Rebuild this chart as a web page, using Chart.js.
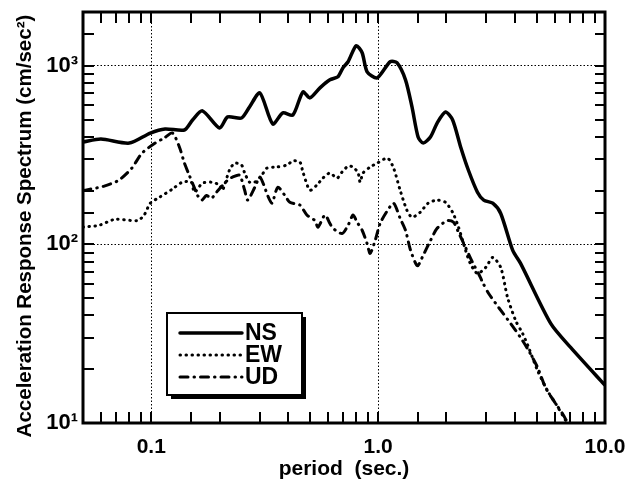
<!DOCTYPE html>
<html>
<head>
<meta charset="utf-8">
<script src="https://cdn.jsdelivr.net/npm/chart.js@4.4.0/dist/chart.umd.min.js"></script>
<style>
  html, body { margin: 0; padding: 0; background: #fff; }
  #wrap { width: 628px; height: 487px; }
</style>
</head>
<body>
<div id="wrap"><canvas id="spectrum"></canvas></div>
<script>
// periods (sec.) and spectral accelerations (cm/sec^2)
const nsPeriod = [0.05, 0.06, 0.08, 0.099, 0.115, 0.14, 0.152, 0.168, 0.2, 0.217, 0.25, 0.271, 0.301, 0.343, 0.38, 0.421, 0.466, 0.5, 0.554, 0.613, 0.665, 0.7, 0.737, 0.8, 0.85, 0.894, 0.99, 1.13, 1.21, 1.32, 1.41, 1.5, 1.58, 1.7, 1.82, 1.98, 2.13, 2.31, 2.5, 2.74, 2.92, 3.2, 3.47, 3.92, 4.25, 5.77, 7.07, 9.6, 10];
const nsAccel  = [374, 389, 369, 420, 443, 437, 497, 559, 448, 517, 510, 588, 705, 472, 545, 530, 714, 661, 752, 834, 868, 975, 1053, 1295, 1183, 925, 856, 1053, 1040, 834, 588, 399, 369, 399, 478, 551, 497, 351, 260, 196, 177, 170, 149, 92.5, 78, 36, 26.4, 17.2, 16.3];

const ewPeriod = [0.05, 0.059, 0.069, 0.087, 0.093, 0.099, 0.109, 0.124, 0.137, 0.15, 0.155, 0.168, 0.184, 0.2, 0.206, 0.221, 0.233, 0.25, 0.258, 0.271, 0.286, 0.307, 0.323, 0.357, 0.396, 0.421, 0.452, 0.466, 0.5, 0.537, 0.571, 0.613, 0.659, 0.693, 0.737, 0.775, 0.816, 0.833, 0.858, 0.922, 0.99, 1.1, 1.17, 1.25, 1.34, 1.41, 1.53, 1.66, 1.82, 1.98, 2.13, 2.26, 2.43, 2.55, 2.74, 2.98, 3.2, 3.47, 3.72, 4.04, 4.34, 4.61, 5.05, 5.59, 6.07, 6.72, 7.07];
const ewAccel  = [125, 128, 138, 136, 146, 170, 184, 204, 223, 223, 196, 220, 223, 215, 201, 260, 285, 278, 251, 223, 223, 244, 267, 271, 278, 293, 289, 254, 201, 215, 235, 251, 235, 254, 274, 271, 251, 223, 251, 271, 285, 304, 267, 201, 155, 142, 151, 170, 177, 172, 151, 125, 92.5, 78, 68.7, 74.3, 84.5, 74.3, 50.4, 37.4, 31.6, 26.4, 19.6, 15.1, 12.8, 10.3, 9.2];

const udPeriod = [0.05, 0.062, 0.072, 0.082, 0.091, 0.104, 0.114, 0.124, 0.133, 0.14, 0.147, 0.152, 0.16, 0.167, 0.175, 0.184, 0.194, 0.217, 0.228, 0.245, 0.258, 0.266, 0.286, 0.301, 0.316, 0.323, 0.34, 0.361, 0.388, 0.408, 0.452, 0.485, 0.526, 0.543, 0.583, 0.613, 0.632, 0.693, 0.737, 0.775, 0.808, 0.85, 0.894, 0.922, 0.97, 1.02, 1.1, 1.17, 1.25, 1.32, 1.39, 1.49, 1.58, 1.7, 1.82, 2.02, 2.15, 2.26, 2.43, 2.61, 2.77, 2.89, 3.07, 3.4, 3.84, 4.25, 4.61, 5.05, 5.48, 5.95, 6.52, 6.86, 7.3];
const udAccel  = [200, 212, 229, 267, 324, 369, 394, 420, 351, 285, 244, 220, 188, 177, 188, 181, 196, 229, 238, 244, 201, 177, 209, 238, 209, 193, 170, 209, 188, 172, 166, 146, 136, 125, 146, 131, 123, 115, 128, 146, 133, 120, 101, 89, 105, 131, 155, 170, 140, 120, 92.5, 76, 87, 105, 123, 136, 133, 117, 96, 79, 68.7, 61.2, 53.1, 44.3, 36, 30, 25.4, 20.4, 15.7, 13.3, 11.2, 10, 9];

const seriesNames = ['NS', 'EW', 'UD'];
const xTickLabels = { 0.1: '0.1', 1: '1.0', 10: '10.0' };
const yTickLabels = { 10: '10\u00B9', 100: '10\u00B2', 1000: '10\u00B3' };

const FONT = 'Liberation Sans, Arial, Helvetica, sans-serif';

function toPoints(xs, ys) {
    return xs.map((x, i) => ({ x: x, y: ys[i] }));
}

function isDecade(v) {
    const l = Math.log10(v);
    return Math.abs(l - Math.round(l)) < 1e-9;
}

// inward tick marks on all four sides + heavy frame
const framePlugin = {
    id: 'frame',
    afterDraw(chart) {
        const ctx = chart.ctx;
        const { left, top, right, bottom } = chart.chartArea;
        const xs = chart.scales.x;
        const ys = chart.scales.y;
        ctx.save();
        ctx.strokeStyle = '#000';
        ctx.lineWidth = 2;
        ctx.beginPath();
        xs.ticks.forEach(t => {
            const px = Math.round(xs.getPixelForValue(t.value));
            if (px <= left + 2 || px >= right - 2) return;
            ctx.moveTo(px, bottom); ctx.lineTo(px, bottom - 11);
            ctx.moveTo(px, top); ctx.lineTo(px, top + 11);
        });
        ys.ticks.forEach(t => {
            const py = Math.round(ys.getPixelForValue(t.value));
            if (py <= top + 2 || py >= bottom - 2) return;
            ctx.moveTo(left, py); ctx.lineTo(left + 11, py);
            ctx.moveTo(right, py); ctx.lineTo(right - 10, py);
        });
        ctx.stroke();
        ctx.lineWidth = 3;
        ctx.strokeRect(left, top, right - left, bottom - top);
        ctx.restore();
    }
};

// boxed legend with drop shadow inside the plot
const boxLegendPlugin = {
    id: 'boxLegend',
    afterDraw(chart) {
        const ctx = chart.ctx;
        const area = chart.chartArea;
        const bx = area.left + 84, by = area.top + 301, bw = 135, bh = 82;
        ctx.save();
        ctx.fillStyle = '#000';
        ctx.fillRect(bx + 4, by + 4, bw, bh);
        ctx.fillStyle = '#fff';
        ctx.fillRect(bx, by, bw, bh);
        ctx.strokeStyle = '#000';
        ctx.lineWidth = 2;
        ctx.strokeRect(bx, by, bw, bh);
        ctx.font = 'bold 23px ' + FONT;
        ctx.textBaseline = 'middle';
        ctx.textAlign = 'left';
        chart.data.datasets.forEach((ds, i) => {
            const ly = by + 20 + i * 22;
            ctx.beginPath();
            ctx.lineWidth = ds.borderWidth;
            ctx.lineCap = ds.borderCapStyle || 'butt';
            ctx.setLineDash(ds.borderDash || []);
            ctx.moveTo(bx + 13, ly);
            ctx.lineTo(bx + 75, ly);
            ctx.stroke();
            ctx.setLineDash([]);
            ctx.fillStyle = '#000';
            ctx.fillText(ds.label, bx + 78, ly + 1);
        });
        ctx.restore();
    }
};

const ctx = document.getElementById('spectrum').getContext('2d');

const spectrumChart = new Chart(ctx, {
    type: 'line',
    data: {
        datasets: [{
            label: seriesNames[0],
            data: toPoints(nsPeriod, nsAccel),
            borderColor: '#000',
            borderWidth: 3.5,
            borderCapStyle: 'round',
            borderJoinStyle: 'round',
            borderDash: []
        }, {
            label: seriesNames[1],
            data: toPoints(ewPeriod, ewAccel),
            borderColor: '#000',
            borderWidth: 3,
            borderCapStyle: 'round',
            borderJoinStyle: 'round',
            borderDash: [0.5, 5.5]
        }, {
            label: seriesNames[2],
            data: toPoints(udPeriod, udAccel),
            borderColor: '#000',
            borderWidth: 3,
            borderCapStyle: 'round',
            borderJoinStyle: 'round',
            borderDash: [8, 6, 0.5, 6]
        }]
    },
    options: {
        responsive: true,
        maintainAspectRatio: false,
        animation: false,
        elements: {
            point: { radius: 0 },
            line: { tension: 0.25, fill: false }
        },
        layout: { padding: { left: 0, top: 12, right: 23, bottom: 0 } },
        plugins: {
            legend: { display: false },
            tooltip: { enabled: false }
        },
        scales: {
            x: {
                type: 'logarithmic',
                position: 'bottom',
                min: 0.05,
                max: 10,
                afterFit(s) { s.height = 64; s.paddingLeft = 0; s.paddingRight = 0; },
                border: { display: false, dash: [1.5, 2] },
                grid: {
                    drawTicks: false,
                    lineWidth: 1,
                    color: c => (c.tick && isDecade(c.tick.value) && c.tick.value < 10) ? '#000' : 'rgba(0,0,0,0)'
                },
                ticks: {
                    autoSkip: false,
                    maxRotation: 0,
                    padding: 12,
                    color: '#000',
                    font: { family: FONT, size: 21, weight: 'bold' },
                    callback: v => xTickLabels[Math.round(v * 1000) / 1000] || ''
                },
                title: {
                    display: true,
                    text: 'period  (sec.)',
                    color: '#000',
                    font: { family: FONT, size: 21, weight: 'bold' },
                    padding: { top: 0, bottom: 5 }
                }
            },
            y: {
                type: 'logarithmic',
                position: 'left',
                min: 10,
                max: 2000,
                afterFit(s) { s.width = 83; s.paddingTop = 0; s.paddingBottom = 0; },
                border: { display: false, dash: [1.5, 2] },
                grid: {
                    drawTicks: false,
                    lineWidth: 1,
                    color: c => (c.tick && isDecade(c.tick.value) && c.tick.value > 10) ? '#000' : 'rgba(0,0,0,0)'
                },
                ticks: {
                    autoSkip: false,
                    padding: 5,
                    color: '#000',
                    font: { family: FONT, size: 22, weight: 'bold' },
                    callback: v => yTickLabels[Math.round(v)] || ''
                },
                title: {
                    display: true,
                    // trailing spaces nudge the rotated title down a little, as in the original
                    text: 'Acceleration Response Spectrum (cm/sec\u00B2)   ',
                    color: '#000',
                    font: { family: FONT, size: 20.5, weight: 'bold' },
                    padding: { top: 13, bottom: 0 }
                }
            }
        }
    },
    plugins: [framePlugin, boxLegendPlugin]
});
</script>
</body>
</html>
